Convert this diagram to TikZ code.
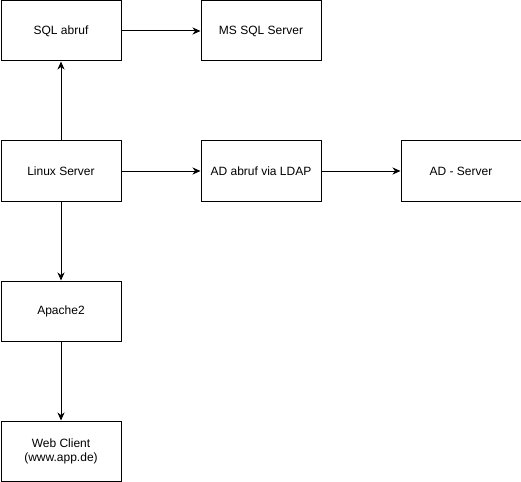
\documentclass[tikz,border=0pt]{standalone}
\usepackage{fontspec}
\setmainfont{Liberation Sans}
\usetikzlibrary{arrows.meta}
\begin{document}
\begin{tikzpicture}[x=1pt,y=-1pt,
  box/.style={draw=black,line width=1pt,minimum width=120pt,minimum height=60pt,inner sep=0pt,align=center,font=\fontsize{12}{14}\selectfont,anchor=north west},
  conn/.style={draw=black,line width=1pt,-{Stealth[length=8pt,width=7pt,inset=2.5pt]}}]
\useasboundingbox (0,0) rectangle (521,481);
\node[box] (sql) at (0.5,0.5) {SQL abruf};
\node[box] (ms) at (200.5,0.5) {MS SQL Server};
\node[box] (linux) at (0.5,140.5) {Linux Server};
\node[box] (ad) at (200.5,140.5) {AD abruf via LDAP};
\node[box] (adserver) at (400.5,140.5) {AD - Server};
\node[box] (apache) at (0.5,280.5) {Apache2};
\node[box] (web) at (0.5,420.5) {Web Client\\(www.app.de)};
\draw[conn] (sql) -- (ms);
\draw[conn] (linux) -- (sql);
\draw[conn] (linux) -- (ad);
\draw[conn] (ad) -- (adserver);
\draw[conn] (linux) -- (apache);
\draw[conn] (apache) -- (web);
\end{tikzpicture}
\end{document}
